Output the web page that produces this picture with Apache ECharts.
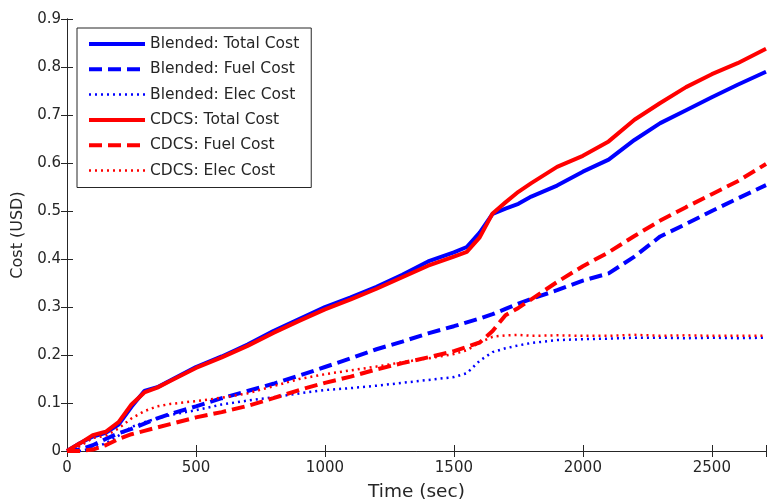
<!DOCTYPE html>
<html>
<head>
<meta charset="utf-8">
<script src="https://cdn.jsdelivr.net/npm/echarts@6/dist/echarts.min.js"></script>
<style>
  html, body { margin: 0; padding: 0; background: #ffffff; }
  #chart { width: 767px; height: 504px; }
</style>
</head>
<body>
<div id="chart"></div>
<script>
// Trip time in seconds
const timeSec = [0, 50, 100, 150, 200, 250, 300, 350, 400, 500, 600, 700, 800, 900, 1000,
  1100, 1200, 1300, 1400, 1500, 1550, 1600, 1650, 1700, 1750, 1800, 1900, 2000, 2100,
  2200, 2300, 2400, 2500, 2600, 2710];

// Cumulative cost (USD), blended strategy
const blendedTotal = [0, 0.016, 0.03, 0.038, 0.055, 0.092, 0.125, 0.133, 0.147, 0.175, 0.197, 0.222, 0.25, 0.275, 0.3,
  0.32, 0.342, 0.367, 0.395, 0.414, 0.425, 0.455, 0.494, 0.505, 0.515, 0.53, 0.553, 0.582, 0.607,
  0.648, 0.683, 0.71, 0.737, 0.763, 0.79];
const blendedFuel = [0, 0.003, 0.012, 0.025, 0.037, 0.046, 0.057, 0.068, 0.077, 0.093, 0.11, 0.125, 0.14, 0.157, 0.175,
  0.193, 0.212, 0.228, 0.245, 0.26, 0.268, 0.276, 0.285, 0.296, 0.307, 0.317, 0.335, 0.355, 0.37,
  0.405, 0.447, 0.473, 0.5, 0.526, 0.554];
const blendedElec = [0, 0, 0.006, 0.016, 0.032, 0.05, 0.06, 0.068, 0.075, 0.085, 0.097, 0.105, 0.112, 0.12, 0.127,
  0.131, 0.136, 0.142, 0.148, 0.154, 0.162, 0.188, 0.206, 0.214, 0.22, 0.225, 0.231, 0.233, 0.234,
  0.236, 0.236, 0.235, 0.236, 0.235, 0.236];

// Cumulative cost (USD), CDCS strategy
const cdcsTotal = [0, 0.016, 0.033, 0.04, 0.06, 0.097, 0.122, 0.132, 0.146, 0.173, 0.195, 0.219, 0.246, 0.271, 0.295,
  0.316, 0.338, 0.362, 0.386, 0.405, 0.415, 0.445, 0.495, 0.518, 0.54, 0.558, 0.592, 0.615, 0.645,
  0.69, 0.725, 0.758, 0.785, 0.808, 0.838];
const cdcsFuel = [0, 0, 0.003, 0.012, 0.025, 0.035, 0.042, 0.049, 0.056, 0.07, 0.081, 0.094, 0.11, 0.127, 0.142,
  0.155, 0.17, 0.183, 0.195, 0.208, 0.217, 0.226, 0.25, 0.283, 0.298, 0.316, 0.352, 0.385, 0.414,
  0.448, 0.48, 0.508, 0.535, 0.562, 0.598];
const cdcsElec = [0, 0.01, 0.027, 0.032, 0.047, 0.068, 0.083, 0.093, 0.098, 0.104, 0.111, 0.12, 0.135, 0.15, 0.16,
  0.168, 0.176, 0.185, 0.193, 0.202, 0.21, 0.226, 0.238, 0.241, 0.242, 0.24, 0.241, 0.24, 0.24,
  0.242, 0.24, 0.241, 0.24, 0.24, 0.24];

// Axis tick labels
const xTickLabels = ['0', '500', '1000', '1500', '2000', '2500'];
const yTickLabels = ['0', '0.1', '0.2', '0.3', '0.4', '0.5', '0.6', '0.7', '0.8', '0.9'];

const FONT = 'DejaVu Sans';
const INK = '#262626';
const BLUE = '#0000ff';
const RED = '#ff0000';

const pairs = arr => timeSec.map((t, i) => [t, arr[i]]);

const lineKinds = {
  solid:  { type: 'solid', width: 4 },
  dashed: { type: [13, 6], width: 4 },
  dotted: { type: [2, 4], width: 2.5 }
};

const seriesDefs = [
  { name: 'Blended: Total Cost', values: blendedTotal, color: BLUE, kind: 'solid' },
  { name: 'Blended: Fuel Cost',  values: blendedFuel,  color: BLUE, kind: 'dashed' },
  { name: 'Blended: Elec Cost',  values: blendedElec,  color: BLUE, kind: 'dotted' },
  { name: 'CDCS: Total Cost',    values: cdcsTotal,    color: RED,  kind: 'solid' },
  { name: 'CDCS: Fuel Cost',     values: cdcsFuel,     color: RED,  kind: 'dashed' },
  { name: 'CDCS: Elec Cost',     values: cdcsElec,     color: RED,  kind: 'dotted' }
];

function makeSeries(d) {
  const k = lineKinds[d.kind];
  return {
    name: d.name,
    type: 'line',
    data: pairs(d.values),
    xAxisIndex: 0,
    yAxisIndex: 0,
    symbol: 'none',
    smooth: false,
    lineStyle: { color: d.color, width: k.width, type: k.type },
    itemStyle: { color: d.color },
    emphasis: { disabled: true }
  };
}

// Legend entries: a plain line sample in each series' own style
const legendItems = seriesDefs.map(d => ({
  name: d.name,
  itemStyle: { opacity: 0 },
  lineStyle: { color: d.color, width: lineKinds[d.kind].width, type: lineKinds[d.kind].type }
}));

const xLabelFmt = v => {
  const s = String(Math.round(v));
  return xTickLabels.indexOf(s) >= 0 && Math.abs(v - Math.round(v)) < 1e-6 ? s : '';
};
const yLabelFmt = v => {
  const idx = Math.round(v * 10);
  return Math.abs(v * 10 - idx) < 1e-6 && yTickLabels[idx] !== undefined ? yTickLabels[idx] : '';
};

const axisLineStyle = { lineStyle: { color: INK, width: 1 } };
const tickStyle = { inside: true, length: 6, lineStyle: { color: INK, width: 1 } };

const chart = echarts.init(document.getElementById('chart'), null, { renderer: 'canvas' });
chart.setOption({
  animation: false,
  backgroundColor: '#ffffff',
  grid: { left: 67, right: 1, top: 19, bottom: 53, containLabel: false, outerBoundsMode: 'none' },
  legend: {
    orient: 'vertical',
    left: 77,
    top: 28,
    selectedMode: false,
    itemWidth: 56,
    itemHeight: 14,
    itemGap: 9.3,
    padding: [8, 12, 9, 10],
    backgroundColor: '#ffffff',
    borderColor: INK,
    borderWidth: 1,
    itemStyle: { opacity: 0 },
    textStyle: { fontFamily: FONT, fontSize: 15.5, color: INK },
    data: legendItems
  },
  xAxis: [
    {
      type: 'value', position: 'bottom', min: 0, max: 2710, interval: 500,
      name: 'Time (sec)', nameLocation: 'middle', nameGap: 32,
      nameTextStyle: { fontFamily: FONT, fontSize: 18.5, color: INK },
      axisLine: axisLineStyle, axisTick: tickStyle, splitLine: { show: false },
      axisLabel: { fontFamily: FONT, fontSize: 15, color: INK, margin: 10, formatter: xLabelFmt }
    },
    {
      type: 'value', position: 'top', min: 0, max: 2710, interval: 500,
      axisLine: axisLineStyle, axisTick: tickStyle, splitLine: { show: false },
      axisLabel: { show: false }
    }
  ],
  yAxis: [
    {
      type: 'value', position: 'left', min: 0, max: 0.9, interval: 0.1,
      name: 'Cost (USD)', nameLocation: 'middle', nameGap: 41,
      nameTextStyle: { fontFamily: FONT, fontSize: 16, color: INK },
      axisLine: { show: true, lineStyle: { color: INK, width: 1 } },
      axisTick: tickStyle, splitLine: { show: false },
      axisLabel: { fontFamily: FONT, fontSize: 15, color: INK, margin: 6, formatter: yLabelFmt }
    },
    {
      type: 'value', position: 'right', min: 0, max: 0.9, interval: 0.1,
      axisLine: { show: true, lineStyle: { color: INK, width: 1 } },
      axisTick: tickStyle, splitLine: { show: false },
      axisLabel: { show: false }
    }
  ],
  series: seriesDefs.map(makeSeries)
});
</script>
</body>
</html>
